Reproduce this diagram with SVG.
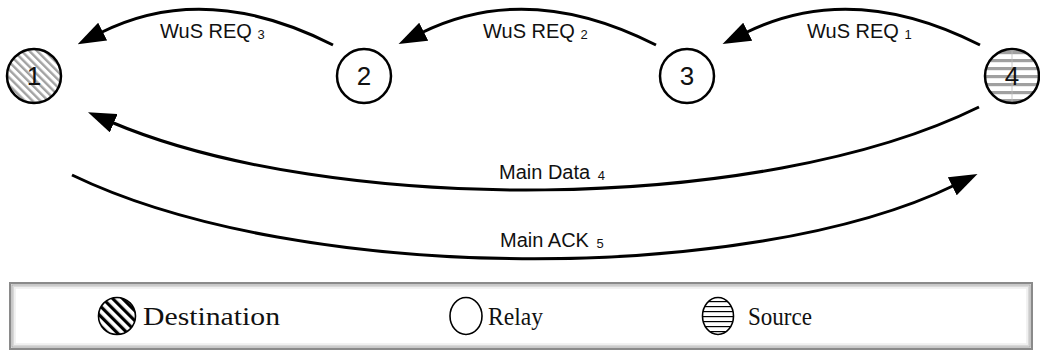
<svg xmlns="http://www.w3.org/2000/svg" width="1040" height="353" viewBox="0 0 1040 353">
  <style>
    .node { stroke: #000; stroke-width: 2.5; }
    .nlabel { font-family: "Liberation Sans", Arial, sans-serif; font-size: 26px; text-anchor: middle; fill: #111; }
    .conn { fill: none; stroke: #000; stroke-width: 3; }
    .elabel { font-family: "Liberation Sans", Arial, sans-serif; font-size: 20px; fill: #111; }
    .sub { font-size: 13px; }
    .ltext { font-family: "Liberation Serif", "DejaVu Serif", serif; font-size: 25px; fill: #111; }
    .licon { stroke: #000; stroke-width: 1.6; }
  </style>
  <defs>
    <marker id="arrow" markerUnits="userSpaceOnUse" markerWidth="28" markerHeight="20" refX="3" refY="10" orient="auto">
      <path d="M0,0 L28,10 L0,20 z" fill="#000"/>
    </marker>
    <pattern id="diagGray" patternUnits="userSpaceOnUse" width="5.5" height="5.5" patternTransform="rotate(-45)">
      <rect width="5.5" height="5.5" fill="#fff"/>
      <rect width="2.4" height="5.5" fill="#a2a2a2"/>
    </pattern>
    <pattern id="horizGray" patternUnits="userSpaceOnUse" width="8" height="8" y="1">
      <rect width="8" height="8" fill="#fff"/>
      <rect y="2" width="8" height="3.2" fill="#a0a0a0"/>
    </pattern>
    <pattern id="diagBlack" patternUnits="userSpaceOnUse" width="7" height="7" patternTransform="rotate(-45)">
      <rect width="7" height="7" fill="#fff"/>
      <rect width="3.2" height="7" fill="#000"/>
    </pattern>
    <pattern id="horizBlack" patternUnits="userSpaceOnUse" width="5" height="5" y="1">
      <rect width="5" height="5" fill="#fff"/>
      <rect width="5" height="1.2" fill="#000"/>
    </pattern>
  </defs>

  <g id="connectors">
    <path class="conn" d="M980,45 Q852,-20 745,33" marker-end="url(#arrow)"/>
    <path class="conn" d="M656,45 Q528,-20 421,33" marker-end="url(#arrow)"/>
    <path class="conn" d="M333,45 Q205,-20 100,33" marker-end="url(#arrow)"/>
    <path class="conn" d="M979,107 C760,215 330,215 111,122" marker-end="url(#arrow)"/>
    <path class="conn" d="M72,175 C300,285 750,285 955,185" marker-end="url(#arrow)"/>
    <text class="elabel" x="807" y="38">WuS REQ <tspan class="sub" dy="1">1</tspan></text>
    <text class="elabel" x="483" y="38">WuS REQ <tspan class="sub" dy="1">2</tspan></text>
    <text class="elabel" x="160" y="38">WuS REQ <tspan class="sub" dy="1">3</tspan></text>
    <text class="elabel" x="499" y="179">Main Data <tspan class="sub" dx="2" dy="1">4</tspan></text>
    <text class="elabel" x="500" y="247">Main ACK <tspan class="sub" dx="2" dy="1">5</tspan></text>
  </g>

  <g id="node1">
    <circle class="node" cx="34" cy="76" r="27" fill="url(#diagGray)"/>
    <text class="nlabel" x="34" y="85">1</text>
  </g>
  <g id="node2">
    <circle class="node" cx="364" cy="76" r="27" fill="#fff"/>
    <text class="nlabel" x="364" y="85">2</text>
  </g>
  <g id="node3">
    <circle class="node" cx="687" cy="76" r="27" fill="#fff"/>
    <text class="nlabel" x="687" y="85">3</text>
  </g>
  <g id="node4">
    <circle cx="1012" cy="76" r="27" fill="url(#horizGray)"/>
    <line x1="1012" y1="50" x2="1012" y2="102" stroke="#bbb" stroke-width="0.8"/>
    <circle class="node" cx="1012" cy="76" r="27" fill="none"/>
    <text class="nlabel" x="1012" y="85">4</text>
  </g>

  <g id="legend">
    <rect x="10" y="283" width="1022" height="66" fill="#fff" stroke="#8a8a8a" stroke-width="2"/>
    <rect x="12" y="285" width="1018" height="62" fill="none" stroke="#b5b5b5" stroke-width="1.5"/>
    <rect x="13.5" y="286.5" width="1015" height="59" fill="none" stroke="#d8d8d8" stroke-width="1.5"/>
    <rect x="15" y="288" width="1012" height="56" fill="none" stroke="#eeeeee" stroke-width="1.5"/>
    <g id="legend-destination">
      <circle class="licon" cx="117" cy="316" r="18.5" fill="url(#diagBlack)"/>
      <text class="ltext" x="143" y="325" textLength="137" lengthAdjust="spacingAndGlyphs">Destination</text>
    </g>
    <g id="legend-relay">
      <ellipse class="licon" cx="466" cy="316" rx="16" ry="18.5" fill="#fff"/>
      <text class="ltext" x="488" y="325" textLength="55" lengthAdjust="spacingAndGlyphs">Relay</text>
    </g>
    <g id="legend-source">
      <ellipse class="licon" cx="718" cy="316" rx="15.5" ry="18.5" fill="url(#horizBlack)"/>
      <text class="ltext" x="748" y="325" textLength="64" lengthAdjust="spacingAndGlyphs">Source</text>
    </g>
  </g>
</svg>
